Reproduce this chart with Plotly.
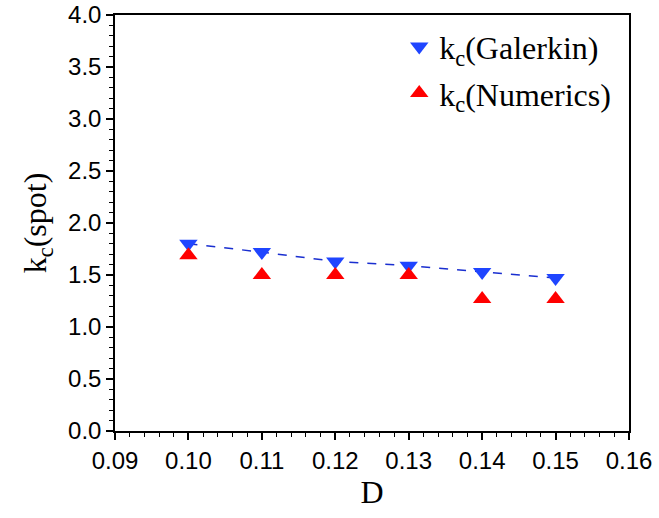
import plotly.graph_objects as go

D = [0.10, 0.11, 0.12, 0.13, 0.14, 0.15]
kc_galerkin = [1.80, 1.72, 1.63, 1.59, 1.53, 1.47]
kc_numerics = [1.69, 1.50, 1.50, 1.50, 1.27, 1.27]

fig = go.Figure()
fig.add_trace(go.Scatter(
    x=D, y=kc_galerkin, mode="lines+markers", name="k<sub>c</sub>(Galerkin)",
    line=dict(color="#1a2fd0", width=1.5, dash="dash"),
    marker=dict(symbol="triangle-down", size=16, color="#1f45ff"),
    legendgroup="g", showlegend=False,
))
fig.add_trace(go.Scatter(
    x=D, y=kc_numerics, mode="markers", name="k<sub>c</sub>(Numerics)",
    marker=dict(symbol="triangle-up", size=16, color="#ff0000"),
    legendgroup="n", legendrank=2,
))
# legend proxy for Galerkin (marker only)
fig.add_trace(go.Scatter(
    x=[None], y=[None], mode="markers", name="k<sub>c</sub>(Galerkin)",
    marker=dict(symbol="triangle-down", size=16, color="#1f45ff"),
    legendgroup="g", legendrank=1,
))

axis_common = dict(
    showline=True, linecolor="black", linewidth=1.5, mirror=True,
    ticks="outside", ticklen=7, tickwidth=1.5, tickcolor="black",
    showgrid=False, zeroline=False, automargin=False,
    tickfont=dict(family="Liberation Sans, Arial", size=24, color="black"),
)

fig.update_xaxes(
    range=[0.09, 0.16], dtick=0.01, tickformat=".2f",
    minor=dict(ticks="outside", ticklen=4, tickwidth=1.2, tickcolor="black", dtick=0.002),
    title=dict(text="D", font=dict(family="Liberation Serif, Times New Roman", size=32, color="black"), standoff=8),
    **axis_common,
)
fig.update_yaxes(
    range=[0, 4.0], dtick=0.5, tickformat=".1f",
    minor=dict(ticks="outside", ticklen=4, tickwidth=1.2, tickcolor="black", dtick=0.1),
    title=dict(text="k<sub>c</sub>(spot)", font=dict(family="Liberation Serif, Times New Roman", size=32, color="black"), standoff=12),
    **axis_common,
)

fig.update_layout(
    width=659, height=518,
    margin=dict(l=115, r=30, t=15, b=87),
    plot_bgcolor="white", paper_bgcolor="white",
    legend=dict(
        x=0.553, y=0.99, xanchor="left", yanchor="top",
        bgcolor="rgba(0,0,0,0)", borderwidth=0,
        font=dict(family="Liberation Serif, Times New Roman", size=32, color="black"),
        tracegroupgap=2, traceorder="grouped",
    ),
)

fig.write_html("out.html")
